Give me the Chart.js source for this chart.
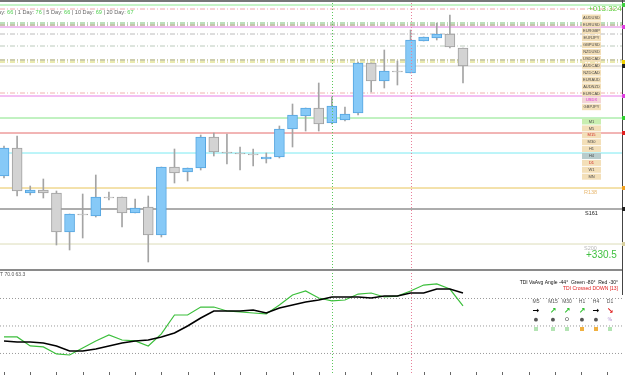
<!DOCTYPE html>
<html>
<head>
<meta charset="utf-8">
<script src="https://cdn.jsdelivr.net/npm/chart.js@4.4.1/dist/chart.umd.min.js"></script>
<style>
html, body { margin: 0; padding: 0; background: #fff; overflow: hidden; }
#wrap { position: relative; width: 625px; height: 375px; }
canvas { position: absolute; left: 0; top: 0; }
</style>
</head>
<body>
<div id="wrap">
  <canvas id="main" width="625" height="375"></canvas>
  <canvas id="tdi" width="625" height="375"></canvas>
</div>
<script>
// candles (price units), left to right
const opens  = [124,152,107,110,107,68,86,84,103,103,87,93,65,133,128,132,163,148,147,146,141,143,171,184,192,177,180,187,237,219,229,227,259,262,266,252];
const highs  = [154,164,114,121,109,86,106,125,108,103,101,104,133,151,132,165,167,166,153,151,147,174,196,192,217,203,193,238,237,250,239,270,263,277,285,252];
const lows   = [122,104,105,102,55,50,62,83,100,73,87,38,63,117,119,130,144,136,130,134,137,142,153,169,169,176,179,185,208,212,215,227,259,260,252,217];
const closes = [152,109,110,107,68,86,85,103,102,87,92,65,133,127,132,163,148,147,146,145,143,171,185,192,176,194,186,237,219,229,228,260,263,266,253,234];

// TDI panel
const tdiGreen = [42.8,42.8,36.9,36.3,31.7,31.0,35.6,40.2,44.1,40.8,40.2,36.9,44.8,57.2,57.2,62.4,62.4,59.8,59.2,58.5,57.9,63.7,70.3,72.9,68.3,66.4,67.0,70.9,71.6,69.0,69.6,72.9,76.8,77.5,74.2,63.1];
const tdiBlack = [40.2,39.5,39.5,38.9,36.9,33.6,33.6,34.9,36.9,38.9,40.2,40.8,42.8,45.4,50.0,55.2,59.8,59.8,59.8,60.5,58.5,61.8,63.7,65.7,67.0,69.0,69.0,69.0,68.3,69.6,69.6,71.6,71.6,74.2,74.2,71.6];
const tdiLevels = [68, 50, 32];

// horizontal price levels
const levelPrices = [295, 291, 277, 275, 273, 266, 254, 240, 238, 234, 207, 204, 182, 167, 147, 112, 91, 56];
const levelColors = ['#8ee88e','#f0a8a8','#78c078','#8c8c5c','#e080e0','#bcbcbc','#bccabc','#9a9a5a','#d4d460','#d0d0d0','#f0b0b0','#e880e8','#84e484','#e46a6a','#7aeaf2','#e8c458','#5a5a5a','#dcdcb8'];
const levelDashed = [false,true,true,true,false,true,true,true,true,false,true,false,false,false,false,false,false,false];
const levelMarkers = ['#40d040',null,null,null,'#e040e0',null,null,null,'#f0d000','#202020',null,'#e040e0','#30d030','#e02020',null,'#f0a020','#202020','#d8d0a0'];

const pairs = ['AUDUSD','EURUSD','EURGBP','EURJPY','GBPUSD','NZDUSD','USDCAD','AUDCAD','NZDCAD','EURAUD','AUDNZD','EURCAD','USDX','GBPJPY'];
const frames = ['M1','M5','M15','M30','H1','H4','D1','W1','MN'];
const markBars = [25, 31];

const X_MIN = -0.305, X_MAX = 47.125;
const FONT = '"Liberation Sans", Arial, sans-serif';

const blueFill = '#86c9f7', blueEdge = '#55a5e0', grayFill = '#d3d3d3', grayEdge = '#a0a0a0';
const up = closes.map((c, i) => c > opens[i]);

const levelSets = levelPrices.map((p, i) => ({
  type: 'line',
  data: [{x: X_MIN, y: p}, {x: X_MAX, y: p}],
  borderColor: levelColors[i],
  borderWidth: 1,
  borderDash: levelDashed[i] ? [5, 2, 1, 2] : [],
  pointRadius: 0,
  order: 2
}));

const mainDeco = {
  id: 'mainDeco',
  afterDraw(chart) {
    const ctx = chart.ctx, xs = chart.scales.x, ys = chart.scales.y;
    ctx.save();
    // vertical dotted markers through both panels
    const vcol = ['#5cc85c', '#e8809a'];
    markBars.forEach((b, k) => {
      const x = Math.round(xs.getPixelForValue(b)) + 0.5;
      ctx.strokeStyle = vcol[k]; ctx.lineWidth = 1; ctx.setLineDash([1, 2]);
      ctx.beginPath(); ctx.moveTo(x, 0); ctx.lineTo(x, 375); ctx.stroke();
    });
    ctx.setLineDash([]);
    // borders
    ctx.fillStyle = '#777'; ctx.fillRect(0, 0, 625, 2);
    ctx.fillStyle = '#8a8a8a'; ctx.fillRect(0, 269, 623, 2);
    ctx.fillStyle = '#444'; ctx.fillRect(622, 0, 1, 271);
    // right edge markers
    levelPrices.forEach((p, i) => {
      if (!levelMarkers[i]) return;
      const y = ys.getPixelForValue(p);
      ctx.fillStyle = levelMarkers[i]; ctx.fillRect(622, y - 2, 3, 4);
    });
    // pair / timeframe label column
    ctx.font = '4px ' + FONT; ctx.textAlign = 'center'; ctx.textBaseline = 'middle';
    pairs.forEach((t, i) => {
      const y = 17.5 + i * 6.9;
      ctx.fillStyle = t === 'USDX' ? '#f3d6d6' : '#f3dfb8'; ctx.fillRect(582, y - 3, 19, 6);
      ctx.fillStyle = t === 'USDX' ? '#e030e0' : '#4a4a4a'; ctx.fillText(t, 591.5, y);
    });
    frames.forEach((t, i) => {
      const y = 121.5 + i * 6.9;
      ctx.fillStyle = t === 'M1' ? '#c8eeb0' : (t === 'H4' ? '#b8cccc' : '#f3dfb8');
      ctx.fillRect(582, y - 3, 19, 6);
      ctx.fillStyle = (t === 'M15' || t === 'D1') ? '#d02020' : '#4a4a4a';
      ctx.fillText(t, 591.5, y);
    });
    // level captions
    ctx.textAlign = 'left'; ctx.font = '5.5px ' + FONT;
    ctx.fillStyle = '#e8b870'; ctx.fillText('R138', 584, ys.getPixelForValue(112) + 4);
    ctx.fillStyle = '#222'; ctx.fillText('S161', 585, ys.getPixelForValue(91) + 4);
    ctx.fillStyle = '#b8b8b8'; ctx.fillText('S200', 584, ys.getPixelForValue(56) + 4);
    ctx.fillStyle = '#40c040'; ctx.font = '10px ' + FONT; ctx.fillText('+330.5', 586, 255);
    ctx.font = '8px ' + FONT; ctx.fillStyle = '#60d040'; ctx.fillText('+013.324', 588, 8.5);
    // top-left stats line
    const parts = [['Today: ', '#666'], ['66', '#50d050'], [' | 1 Day: ', '#666'], ['76', '#50d050'],
      [' | 5 Day: ', '#666'], ['66', '#50d050'], [' | 10 Day: ', '#666'], ['69', '#50d050'],
      [' | 20 Day: ', '#666'], ['67', '#50d050']];
    ctx.font = '5.6px ' + FONT;
    let x = -11;
    parts.forEach(([t, c]) => { ctx.fillStyle = c; ctx.fillText(t, x, 12); x += ctx.measureText(t).width; });
    ctx.restore();
  }
};

new Chart(document.getElementById('main'), {
  type: 'bar',
  data: {
    datasets: [
      {
        data: opens.map((o, i) => ({x: i, y: [o, closes[i]]})),
        backgroundColor: up.map(u => u ? blueFill : grayFill),
        borderColor: up.map(u => u ? blueEdge : grayEdge),
        borderWidth: 1, borderSkipped: false,
        barThickness: 10, grouped: false, order: 0
      },
      {
        data: highs.map((h, i) => ({x: i, y: [lows[i], h]})),
        backgroundColor: '#a4a4a4',
        barThickness: 1, grouped: false, order: 1
      },
      ...levelSets
    ]
  },
  options: {
    responsive: false, animation: false, events: [],
    layout: {padding: {left: 0, right: 3, top: 4, bottom: 106}},
    plugins: {legend: {display: false}, tooltip: {enabled: false}},
    scales: {
      x: {type: 'linear', min: X_MIN, max: X_MAX, offset: false, display: false},
      y: {min: 31, max: 296, display: false}
    }
  },
  plugins: [mainDeco]
});

const tdiDeco = {
  id: 'tdiDeco',
  afterDraw(chart) {
    const ctx = chart.ctx, xs = chart.scales.x;
    ctx.save();
    ctx.fillStyle = '#444'; ctx.fillRect(622, 271, 1, 24);
    // bottom ticks
    ctx.fillStyle = '#666';
    for (let i = 0; i <= 46; i += 2) {
      ctx.fillRect(Math.round(xs.getPixelForValue(i)), 372, 1, 3);
    }
    ctx.font = '5px ' + FONT; ctx.textBaseline = 'middle';
    ctx.textAlign = 'left'; ctx.fillStyle = '#555';
    ctx.fillText('T 70.0 63.3', 0, 274.5);
    ctx.textAlign = 'right'; ctx.fillStyle = '#111';
    ctx.fillText('TDI VaAvg Angle -44°  Green -80°  Red -30°', 618, 283);
    ctx.fillStyle = '#e02020';
    ctx.fillText('TDI Crossed DOWN [13]', 618, 289);
    const tf = ['M5', 'M15', 'M30', 'H1', 'H4', 'D1'];
    const cx = [536, 553, 567, 582, 596, 610];
    const arrows = [['→', '#000'], ['↗', '#30c030'], ['↗', '#30c030'], ['↗', '#30c030'], ['→', '#000'], ['↘', '#e02020']];
    const dots = [['●', '#555'], ['●', '#555'], ['O', '#333'], ['●', '#555'], ['●', '#555'], ['%', '#b090d0']];
    const sq = ['#b4e4b4', '#b4e4b4', '#b4e4b4', '#f0b040', '#f0b040', '#b4e4b4'];
    ctx.textAlign = 'center';
    tf.forEach((t, i) => {
      ctx.font = '5px ' + FONT; ctx.fillStyle = '#555'; ctx.fillText(t, cx[i], 302);
      ctx.font = 'bold 8px "DejaVu Sans"'; ctx.fillStyle = arrows[i][1]; ctx.fillText(arrows[i][0], cx[i], 311);
      ctx.font = '5px "DejaVu Sans"'; ctx.fillStyle = dots[i][1]; ctx.fillText(dots[i][0], cx[i], 319.5);
      ctx.fillStyle = sq[i]; ctx.fillRect(cx[i] - 2, 327, 4, 4);
    });
    ctx.restore();
  }
};

new Chart(document.getElementById('tdi'), {
  type: 'line',
  data: {
    datasets: [
      {data: tdiGreen.map((v, i) => ({x: i, y: v})), borderColor: '#3cbf3c', borderWidth: 1.2, pointRadius: 0, tension: 0, order: 1},
      {data: tdiBlack.map((v, i) => ({x: i, y: v})), borderColor: '#000', borderWidth: 1.6, pointRadius: 0, tension: 0, order: 0},
      ...tdiLevels.map(v => ({
        data: [{x: X_MIN, y: v}, {x: X_MAX, y: v}],
        borderColor: '#999', borderWidth: 1, borderDash: [1, 2], pointRadius: 0, order: 2
      }))
    ]
  },
  options: {
    responsive: false, animation: false, events: [],
    layout: {padding: {left: 0, right: 3, top: 271, bottom: 2}},
    plugins: {legend: {display: false}, tooltip: {enabled: false}},
    scales: {
      x: {type: 'linear', min: X_MIN, max: X_MAX, display: false},
      y: {min: 19.2, max: 86, display: false}
    }
  },
  plugins: [tdiDeco]
});
</script>
</body>
</html>
